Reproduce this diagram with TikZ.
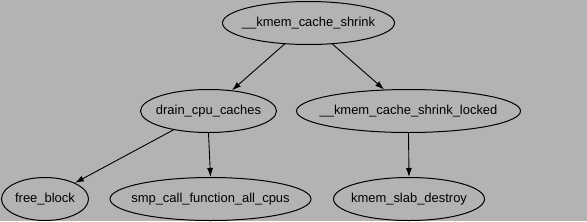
\documentclass[tikz,border=0pt]{standalone}
\usepackage{fontspec}
\setmainfont{Liberation Sans}
\usetikzlibrary{shapes.geometric,arrows.meta}
\definecolor{bggray}{RGB}{179,179,179}
\newcommand{\fnlabel}[1]{\makebox[0pt]{#1}}
\begin{document}
\begin{tikzpicture}[x=1bp,y=-1bp,
  fn/.style={draw=black,line width=1bp,ellipse,inner sep=0pt,minimum height=43bp,font=\fontsize{13}{15}\selectfont},
  edge/.style={draw=black,line width=0.9bp,-{Latex[length=9bp,width=6bp]}}]
\fill[bggray] (0,0) rectangle (587,221);
\useasboundingbox (0,0) rectangle (587,221);
\node[fn,minimum width=172bp] (shrink) at (308.5,23) {\fnlabel{\_\_kmem\_cache\_shrink}};
\node[fn,minimum width=136bp] (drain) at (208.5,111) {\fnlabel{drain\_cpu\_caches}};
\node[fn,minimum width=224bp] (locked) at (408.5,111) {\fnlabel{\_\_kmem\_cache\_shrink\_locked}};
\node[fn,minimum width=87bp] (free) at (45,199) {\fnlabel{free\_block}};
\node[fn,minimum width=201bp] (smp) at (210.5,199) {\fnlabel{smp\_call\_function\_all\_cpus}};
\node[fn,minimum width=151bp] (slab) at (409,199) {\fnlabel{kmem\_slab\_destroy}};
\draw[edge] (shrink) -- (drain);
\draw[edge] (shrink) -- (locked);
\draw[edge] (drain) -- (free);
\draw[edge] (drain.south) -- (smp.north);
\draw[edge] (locked.south) -- (slab.north);
\end{tikzpicture}
\end{document}
